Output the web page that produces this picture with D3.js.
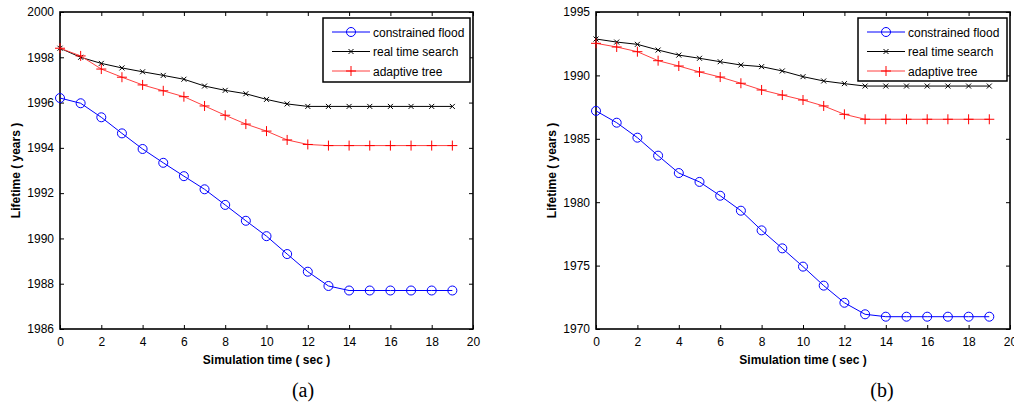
<!DOCTYPE html>
<html>
<head>
<meta charset="utf-8">
<script src="https://cdn.jsdelivr.net/npm/d3@7"></script>
<style>
  body { margin: 0; background: #fff; }
  text { font-family: 'Liberation Sans', Arial, sans-serif; }
</style>
</head>
<body>
<div id="chart"></div>
<script>
// simulation time steps (sec)
const simTime = [0, 1, 2, 3, 4, 5, 6, 7, 8, 9, 10, 11, 12, 13, 14, 15, 16, 17, 18, 19]

// panel (a) lifetime in years
const floodA = [1996.2, 1995.97, 1995.35, 1994.64, 1993.95, 1993.34, 1992.75, 1992.17, 1991.48, 1990.78,
  1990.1, 1989.31, 1988.53, 1987.9, 1987.7, 1987.7, 1987.7, 1987.7, 1987.7, 1987.7]
const searchA = [1998.4, 1998.0, 1997.73, 1997.53, 1997.36, 1997.2, 1997.03, 1996.73, 1996.54, 1996.39,
  1996.14, 1995.94, 1995.83, 1995.83, 1995.83, 1995.83, 1995.83, 1995.83, 1995.83, 1995.83]
const treeA = [1998.4, 1998.06, 1997.48, 1997.12, 1996.78, 1996.52, 1996.26, 1995.85, 1995.44, 1995.05,
  1994.74, 1994.35, 1994.15, 1994.1, 1994.1, 1994.1, 1994.1, 1994.1, 1994.1, 1994.1]

// panel (b) lifetime in years
const floodB = [1987.2, 1986.27, 1985.09, 1983.67, 1982.3, 1981.6, 1980.51, 1979.33, 1977.78, 1976.36,
  1974.92, 1973.42, 1972.07, 1971.16, 1970.97, 1970.97, 1970.97, 1970.97, 1970.97, 1970.97]
const searchB = [1992.87, 1992.63, 1992.45, 1992.0, 1991.6, 1991.35, 1991.08, 1990.82, 1990.69, 1990.35,
  1989.9, 1989.56, 1989.35, 1989.16, 1989.16, 1989.16, 1989.16, 1989.16, 1989.16, 1989.16]
const treeB = [1992.53, 1992.24, 1991.87, 1991.16, 1990.74, 1990.27, 1989.87, 1989.38, 1988.85, 1988.45,
  1988.06, 1987.59, 1986.93, 1986.54, 1986.54, 1986.54, 1986.54, 1986.54, 1986.54, 1986.54]

const xTicks = [0, 2, 4, 6, 8, 10, 12, 14, 16, 18, 20]
const yTicksA = [1986, 1988, 1990, 1992, 1994, 1996, 1998, 2000]
const yTicksB = [1970, 1975, 1980, 1985, 1990, 1995]

const seriesNames = ['constrained flood', 'real time search', 'adaptive tree']

const svg = d3
  .select('#chart')
  .append('svg')
  .attr('width', 1014)
  .attr('height', 404)

function drawPanel(opts) {
  const g = svg.append('g')

  const x = d3.scaleLinear().domain([0, 20]).range([opts.left, opts.right])
  const y = d3.scaleLinear().domain(opts.yDomain).range([opts.bottom, opts.top])

  // inner ticks on all four sides, like a matlab box
  const tickLen = 4
  g.append('g')
    .attr('transform', 'translate(0,' + opts.bottom + ')')
    .call(d3.axisBottom(x).tickValues(xTicks).tickSizeInner(-tickLen).tickSizeOuter(0).tickPadding(8))
  g.append('g')
    .attr('transform', 'translate(0,' + opts.top + ')')
    .call(d3.axisTop(x).tickValues(xTicks).tickSizeInner(-tickLen).tickSizeOuter(0).tickFormat(''))
  g.append('g')
    .attr('transform', 'translate(' + opts.left + ',0)')
    .call(d3.axisLeft(y).tickValues(opts.yTicks).tickSizeInner(-tickLen).tickSizeOuter(0).tickPadding(6).tickFormat(d3.format('d')))
  g.append('g')
    .attr('transform', 'translate(' + opts.right + ',0)')
    .call(d3.axisRight(y).tickValues(opts.yTicks).tickSizeInner(-tickLen).tickSizeOuter(0).tickFormat(''))

  g.selectAll('.domain').remove()
  g.selectAll('.tick line').attr('stroke', '#000').attr('stroke-width', 1)
  g.selectAll('.tick text')
    .attr('fill', '#000')
    .style('font-size', '12px')
    .style('font-family', "'Liberation Sans', Arial, sans-serif")

  g.append('rect')
    .attr('x', opts.left)
    .attr('y', opts.top)
    .attr('width', opts.right - opts.left)
    .attr('height', opts.bottom - opts.top)
    .attr('fill', 'none')
    .attr('stroke', '#000')
    .attr('stroke-width', 1.6)

  const line = d3.line()
    .x((d, i) => x(simTime[i]))
    .y(d => y(d))

  // constrained flood: blue circles
  g.append('path').datum(opts.flood).attr('d', line)
    .attr('fill', 'none').attr('stroke', '#0000ff').attr('stroke-width', 1)
  g.selectAll('.circ').data(opts.flood).enter().append('circle')
    .attr('cx', (d, i) => x(simTime[i]))
    .attr('cy', d => y(d))
    .attr('r', 4.5)
    .attr('fill', 'none').attr('stroke', '#0000ff').attr('stroke-width', 1)

  // real time search: black x
  g.append('path').datum(opts.search).attr('d', line)
    .attr('fill', 'none').attr('stroke', '#000').attr('stroke-width', 1)
  g.selectAll('.xm').data(opts.search).enter().append('path')
    .attr('transform', (d, i) => 'translate(' + x(simTime[i]) + ',' + y(d) + ')')
    .attr('d', 'M-2.5,-2.5L2.5,2.5M-2.5,2.5L2.5,-2.5')
    .attr('stroke', '#000').attr('stroke-width', 1)

  // adaptive tree: red +
  g.append('path').datum(opts.tree).attr('d', line)
    .attr('fill', 'none').attr('stroke', '#ff4040').attr('stroke-width', 1)
  g.selectAll('.pm').data(opts.tree).enter().append('path')
    .attr('transform', (d, i) => 'translate(' + x(simTime[i]) + ',' + y(d) + ')')
    .attr('d', 'M-5,0L5,0M0,-5L0,5')
    .attr('stroke', '#ff0000').attr('stroke-width', 1)

  // legend
  const lg = opts.legend
  g.append('rect')
    .attr('x', lg.x).attr('y', lg.y).attr('width', lg.w).attr('height', lg.h)
    .attr('fill', '#fff').attr('stroke', '#000').attr('stroke-width', 1.5)
  const rows = [
    { color: '#0000ff', marker: 'circle' },
    { color: '#000', marker: 'x' },
    { color: '#ff4040', marker: 'plus' }
  ]
  rows.forEach((r, i) => {
    const cy = lg.y + 14 + i * 19.5
    const x0 = lg.x + 9
    const x1 = lg.x + 47
    const mx = (x0 + x1) / 2
    g.append('line').attr('x1', x0).attr('x2', x1).attr('y1', cy).attr('y2', cy)
      .attr('stroke', r.color).attr('stroke-width', 1)
    if (r.marker === 'circle') {
      g.append('circle').attr('cx', mx).attr('cy', cy).attr('r', 4.5)
        .attr('fill', 'none').attr('stroke', r.color)
    } else if (r.marker === 'x') {
      g.append('path').attr('transform', 'translate(' + mx + ',' + cy + ')')
        .attr('d', 'M-2.5,-2.5L2.5,2.5M-2.5,2.5L2.5,-2.5').attr('stroke', r.color)
    } else {
      g.append('path').attr('transform', 'translate(' + mx + ',' + cy + ')')
        .attr('d', 'M-5,0L5,0M0,-5L0,5').attr('stroke', '#ff0000')
    }
    g.append('text')
      .attr('x', x1 + 3)
      .attr('y', cy + 4.5)
      .style('font-size', '12px')
      .text(seriesNames[i])
  })

  // axis titles
  g.append('text')
    .attr('x', (opts.left + opts.right) / 2)
    .attr('y', 364)
    .attr('text-anchor', 'middle')
    .style('font-size', '12px')
    .style('font-weight', 'bold')
    .text('Simulation time ( sec )')
  g.append('text')
    .attr('transform', 'translate(' + (opts.left - 40) + ',' + ((opts.top + opts.bottom) / 2) + ') rotate(-90)')
    .attr('text-anchor', 'middle')
    .style('font-size', '12px')
    .style('font-weight', 'bold')
    .text('Lifetime ( years )')

  // caption
  g.append('text')
    .attr('x', opts.caption.x)
    .attr('y', 397)
    .attr('text-anchor', 'middle')
    .style('font-family', "'Liberation Serif', 'Times New Roman', serif")
    .style('font-size', '20px')
    .text(opts.caption.text)
}

drawPanel({
  left: 60, right: 473, top: 12, bottom: 329,
  yDomain: [1986, 2000], yTicks: yTicksA,
  flood: floodA, search: searchA, tree: treeA,
  legend: { x: 323, y: 18, w: 147, h: 64 },
  caption: { x: 303, text: '(a)' }
})

drawPanel({
  left: 596, right: 1010, top: 12, bottom: 329,
  yDomain: [1970, 1995], yTicks: yTicksB,
  flood: floodB, search: searchB, tree: treeB,
  legend: { x: 858, y: 18, w: 149, h: 63 },
  caption: { x: 882, text: '(b)' }
})
</script>
</body>
</html>
